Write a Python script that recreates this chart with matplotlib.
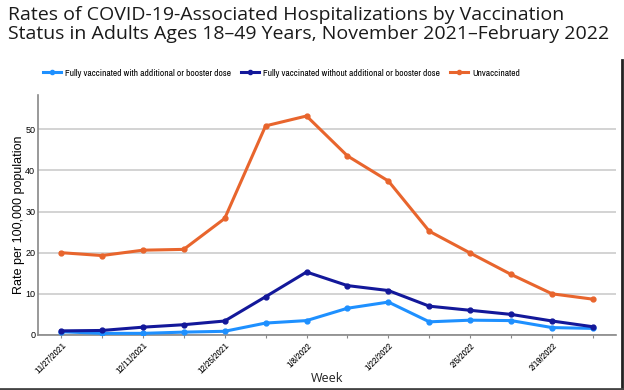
import matplotlib
matplotlib.use("Agg")
import matplotlib.pyplot as plt
from matplotlib.lines import Line2D

weeks = ["11/27/2021", "12/4/2021", "12/11/2021", "12/18/2021", "12/25/2021",
         "1/1/2022", "1/8/2022", "1/15/2022", "1/22/2022", "1/29/2022",
         "2/5/2022", "2/12/2022", "2/19/2022", "2/26/2022"]
boosted = [0.8, 0.4, 0.4, 0.7, 0.9, 2.9, 3.5, 6.5, 8.0, 3.2, 3.6, 3.5, 1.8, 1.6]
no_booster = [1.0, 1.1, 1.9, 2.5, 3.4, 9.3, 15.3, 12.0, 10.8, 7.0, 6.0, 5.0, 3.4, 2.0]
unvaccinated = [20.0, 19.3, 20.6, 20.8, 28.3, 50.8, 53.2, 43.5, 37.4, 25.2, 19.9, 14.7, 10.0, 8.7]

series_names = ["Fully vaccinated with additional or booster dose",
                "Fully vaccinated without additional or booster dose",
                "Unvaccinated"]
colors = ["#1E90FF", "#13189A", "#E8652D"]
yticks = [0, 10, 20, 30, 40, 50]

plt.rcParams['font.family'] = ['Open Sans', 'DejaVu Sans']
narrow = ['Archivo Narrow', 'Liberation Sans', 'DejaVu Sans']

fig = plt.figure(figsize=(6.24, 3.9), dpi=100)
ax = fig.add_axes([38/624, 1-335/390, (616-38)/624, (335-95)/390])

x = list(range(len(weeks)))
for vals, c, name in zip([boosted, no_booster, unvaccinated], colors, series_names):
    ax.plot(x, vals, color=c, lw=2.2, marker='o', ms=3.5, label=name, zorder=3)

ax.set_xlim(-0.56, len(weeks) - 1 + 0.56)
ax.set_ylim(0, 58.3)
ax.set_yticks(yticks)
ax.set_yticklabels([str(v) for v in yticks], fontsize=6.5, family=['Liberation Sans', 'DejaVu Sans'])
ax.yaxis.grid(True, color='#cccccc', lw=1.2)
ax.set_axisbelow(True)
ax.set_xticks(x)
ax.set_xticklabels([w if i % 2 == 0 else "" for i, w in enumerate(weeks)],
                   rotation=45, ha='right', rotation_mode='anchor', fontsize=7, family=narrow)
ax.tick_params(axis='x', length=2, width=0.8, color='#888888', pad=2)
ax.tick_params(axis='y', length=0, pad=2)
for s in ['top', 'right']:
    ax.spines[s].set_visible(False)
for s in ['left', 'bottom']:
    ax.spines[s].set_color('#888888')
    ax.spines[s].set_linewidth(1.2)

ax.set_ylabel("Rate per 100,000 population", fontsize=9, family=['Liberation Sans', 'DejaVu Sans'], labelpad=0)
fig.text(327/624, 1-379/390, "Week", fontsize=9, ha='center', va='center', color='#222222')

fig.text(8/624, 1-6/390, "Rates of COVID-19-Associated Hospitalizations by Vaccination\nStatus in Adults Ages 18\u201349 Years, November 2021\u2013February 2022",
         fontsize=14, va='top', ha='left', linespacing=1.05, color='#1a1a1a')

leg_x = [45, 243, 452]
for c, name, lx in zip(colors, series_names, leg_x):
    h = Line2D([0], [0], color=c, lw=2.2, marker='o', ms=3)
    fig.legend([h], [name], loc='center left', bbox_to_anchor=(lx/624 - 0.004, 1-73/390),
               frameon=False, prop={'family': narrow, 'size': 6.8}, handlelength=2.0, handletextpad=0.4,
               borderpad=0, borderaxespad=0)

# screenshot border on right and bottom
fig.add_artist(Line2D([622/624, 622/624], [0, 1-60/390], color='#222222', lw=2, transform=fig.transFigure))
fig.add_artist(Line2D([0, 1], [1/390, 1/390], color='#444444', lw=2, transform=fig.transFigure))

fig.savefig("out.png", dpi=100)
